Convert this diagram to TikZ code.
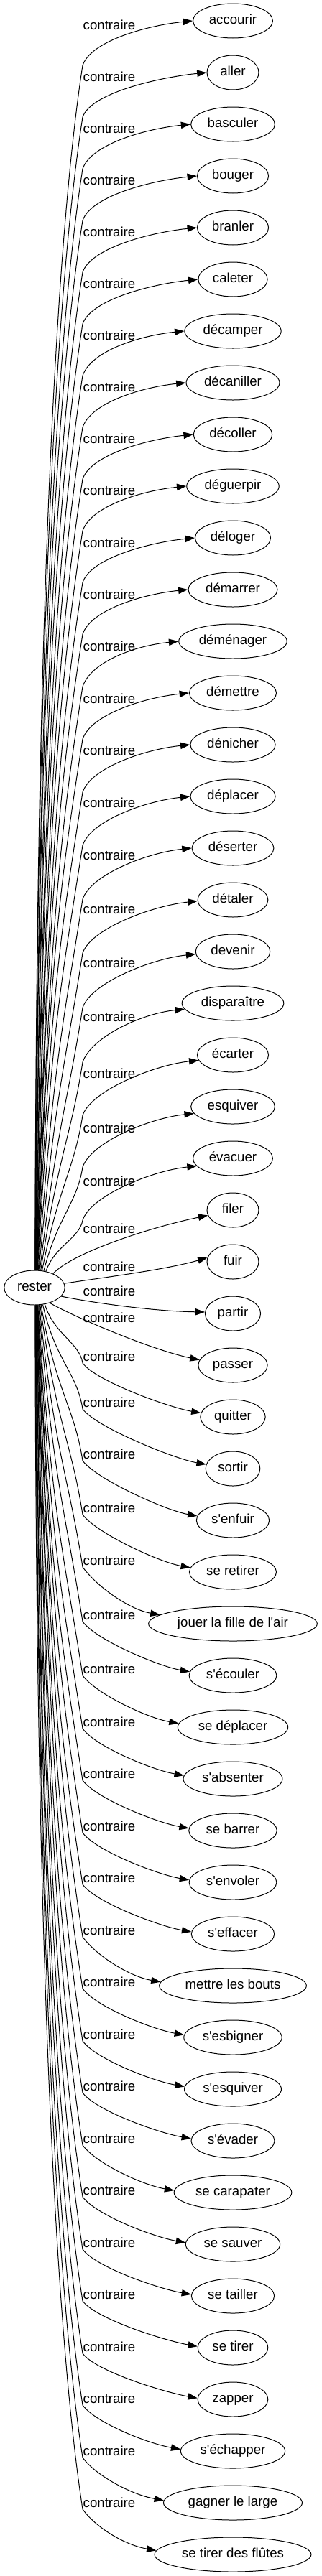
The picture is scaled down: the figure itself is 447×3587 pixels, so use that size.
\documentclass[tikz,border=0pt]{standalone}
\usepackage{fontspec}
\setmainfont{Liberation Sans}[Ligatures=TeXOff]
\usetikzlibrary{arrows.meta,shapes.geometric}
\begin{document}
\begin{tikzpicture}[x=0.75pt,y=-0.75pt,
  word/.style={draw, ellipse, line width=0.75pt, inner xsep=4.5pt, inner ysep=1pt,
    minimum width=54pt, minimum height=36pt, text height=10pt, text depth=3pt,
    font=\fontsize{14pt}{16pt}\selectfont},
  lab/.style={inner sep=0pt, text height=10pt, text depth=3pt,
    font=\fontsize{14pt}{16pt}\selectfont},
  conn/.style={draw, line width=0.75pt, -{Triangle[length=10pt,width=7pt]}}]
\fill[white] (0,0) rectangle (447,3587);
\node[word] (rester) at (48,1793) {rester};
\foreach \i/\txt/\lo in {
1/accourir/8, 2/aller/8, 3/basculer/8, 4/bouger/8, 5/branler/8, 6/caleter/8,
7/décamper/8, 8/décaniller/8, 9/décoller/8, 10/déguerpir/8, 11/déloger/9,
12/démarrer/9, 13/déménager/9, 14/démettre/10, 15/dénicher/10, 16/déplacer/11,
17/déserter/12, 18/détaler/15, 19/devenir/18, 20/disparaître/21, 21/écarter/28,
22/esquiver/32, 23/évacuer/34, 24/filer/28, 25/fuir/9, 26/partir/-29,
27/passer/-64, 28/quitter/-82, 29/sortir/-90, 30/s'enfuir/-90, 31/se retirer/-87,
32/jouer la fille de l'air/-86, 33/s'écouler/-82, 34/se déplacer/-79,
35/s'absenter/-77, 36/se barrer/-77, 37/s'envoler/-76, 38/s'effacer/-76,
39/mettre les bouts/-75, 40/s'esbigner/-75, 41/s'esquiver/-74, 42/s'évader/-74,
43/se carapater/-73, 44/se sauver/-73, 45/se tailler/-72, 46/se tirer/-72,
47/zapper/-71, 48/s'échapper/-71, 49/gagner le large/-70, 50/se tirer des flûtes/-70}{
  \pgfmathsetmacro\ty{29+72*(\i-1)}
  \pgfmathsetmacro\ly{\ty+(\lo)}
  \node[word] (n\i) at (324,\ty) {\txt};
  \node[lab] (l\i) at (152,\ly) {contraire};
}
% upper edges
\foreach \i/\sa/\ko/\ea in {1/88/62/180, 2/88/62/180, 3/87/62/180, 4/87/62/180,
5/86/62/180, 6/86/62/180, 7/85/62/180, 8/85/62/180, 9/84/62/180, 10/84/62/180,
11/83/62/180, 12/83/62/180, 13/82/63/180, 14/82/64/180, 15/81/66/180, 16/80/68/180,
17/78/71/180, 18/76/74/182, 19/73/78/184, 20/70/82/187, 21/66/84/189, 22/61/84/190,
23/55/86/192}{
  \pgfmathsetmacro\ty{29+72*(\i-1)}
  \pgfmathsetmacro\ky{\ty+\ko}
  \pgfmathsetmacro\D{1770-\ky}
  \pgfmathsetmacro\ax{0.3*\D*cos(\sa)*(1-\D/1800)}
  \pgfmathsetmacro\ay{-0.6*\D*sin(\sa)}
  \pgfmathsetmacro\L{min(200,0.35*\D)}
  \pgfmathsetmacro\bx{-0.155*\L}
  \coordinate (k\i) at (115,\ky);
  \draw[conn] (rester.\sa) .. controls +(\ax,\ay) and +(\bx,\L) .. (k\i)
     .. controls +(12,-35) and +(-60,6) .. (n\i.\ea);
}
% lower edges
\foreach \i/\sa/\ko/\ea in {28/-58/-75/173, 29/-64/-83/171, 30/-69/-83/173,
31/-72/-80/174, 32/-75/-79/173, 33/-77/-75/175, 34/-79/-72/176, 35/-80/-70/176,
36/-81/-70/177, 37/-81/-69/177, 38/-82/-69/177, 39/-82/-68/177, 40/-83/-68/177,
41/-83/-67/177, 42/-84/-67/177, 43/-84/-66/178, 44/-85/-66/178, 45/-85/-65/178,
46/-86/-65/178, 47/-86/-64/178, 48/-87/-64/178, 49/-87/-63/178, 50/-88/-63/177}{
  \pgfmathsetmacro\ty{29+72*(\i-1)}
  \pgfmathsetmacro\ky{\ty+(\ko)}
  \pgfmathsetmacro\D{\ky-1816}
  \pgfmathsetmacro\ax{0.3*\D*cos(\sa)*(1-\D/1800)}
  \pgfmathsetmacro\ay{-0.6*\D*sin(\sa)}
  \pgfmathsetmacro\L{min(200,0.35*\D)}
  \pgfmathsetmacro\bx{-0.155*\L}
  \coordinate (k\i) at (115,\ky);
  \draw[conn] (rester.\sa) .. controls +(\ax,\ay) and +(\bx,-\L) .. (k\i)
     .. controls +(18,25) and +(-45,-8) .. (n\i.\ea);
}
% edges near the centre
\draw[conn] (rester.37) .. controls (100,1745) and (205,1710) .. (n24.192);
\draw[conn] (rester.8) .. controls (150,1778) and (230,1768) .. (n25.171);
\draw[conn] (rester.-18) .. controls (140,1816) and (220,1826) .. (n26.177);
\draw[conn] (rester.-45) .. controls (104,1834) and (209,1879) .. (n27.171);
\end{tikzpicture}
\end{document}
